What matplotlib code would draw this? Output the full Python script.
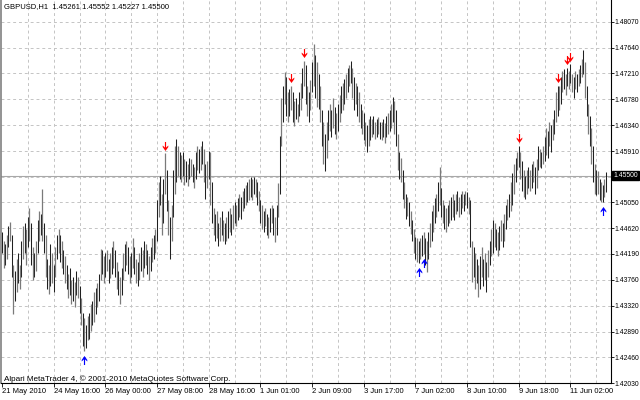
import numpy as np
import matplotlib
matplotlib.use("Agg")
import matplotlib.pyplot as plt
from matplotlib.path import Path

# GBPUSD H1 bars, prices as pips above 1.4000
BASE = 1.4

low_pips = [
    420, 395, 400, 410, 430, 440, 380, 319, 340, 355,
    370, 360, 380, 410, 420, 400, 430, 440, 400, 375,
    380, 390, 420, 440, 450, 440, 420, 380, 360, 352,
    365, 370, 355, 380, 410, 420, 405, 395, 385, 370,
    360, 345, 350, 335, 340, 330, 350, 345,
    320, 300, 265, 257, 262, 275, 276, 290, 300, 305, 318, 330, 340,
    375, 385, 370, 380, 390, 370,
    378, 385, 395, 380, 360, 350, 336, 350, 375, 390,
    400, 385, 370, 380, 395, 385, 370, 365, 375, 390,
    380, 395, 400, 385, 375, 390, 405, 411, 420, 440, 480,
    500, 450, 470, 520, 490, 450, 411, 440, 480, 520,
    540, 550, 545, 540, 550, 535, 540, 533, 545, 550,
    540, 530, 545, 560, 555, 560, 570, 540, 511, 530,
    545, 500, 470,
    450, 440, 445, 433, 440, 450, 440, 435, 440,
    445, 455, 450, 460, 470, 465, 475, 480, 478, 490,
    495, 500, 505, 510, 515, 510, 520, 515,
    500, 490, 470, 460, 455, 465, 450, 445, 455, 470, 450, 439, 450,
    480, 520, 600,
    640, 670, 650, 640, 650, 660, 640, 633, 645, 640,
    650, 660, 680, 700, 670, 650, 640, 660, 690, 700,
    680, 665, 662, 640, 600, 570, 557, 580,
    610, 625, 615, 630, 620, 612, 625, 640, 655, 660, 670, 680, 690, 700, 705,
    680, 660, 670, 650, 640, 630, 620, 610, 600, 590, 600, 610,
    615, 620, 612, 615, 620, 612, 610, 615, 605, 615, 620, 625,
    630, 640, 620, 600, 560, 545, 540, 511, 495, 478,
    483, 465, 453, 440, 420, 410, 405, 403, 410, 415,
    419, 400, 389, 410, 430, 440, 455, 470, 480, 490,
    500, 480, 470, 460, 456, 465, 470, 475, 480, 476,
    485, 490, 480, 485, 495, 490, 500, 495, 485,
    430, 372, 380, 360, 370, 347, 360, 380, 365, 375,
    355, 380, 400, 415, 420, 430, 425, 416, 425, 440, 430,
    440, 460, 476, 480, 490, 500, 520, 540, 560, 565,
    545, 525, 515, 511, 520, 530, 525, 530, 540, 520,
    530, 560, 565, 562, 570, 575, 585, 580, 600, 590,
    610, 620, 640, 650, 660, 670, 690, 695, 685, 700,
    695, 705, 690, 680, 695, 690, 700, 705, 715, 720,
    680, 650, 620, 600, 570, 540, 520, 517, 520, 510,
    506, 506, 515, 522.7,
]

high_pips = [
    455, 440, 436, 450, 465, 473, 450, 400, 390, 410,
    420, 400, 440, 465, 470, 460, 480, 495, 470, 430,
    420, 440, 475, 490, 485, 528, 470, 450, 410, 400,
    436, 420, 400, 430, 450, 461, 450, 440, 425, 415,
    400, 385, 395, 375, 380, 372, 390, 380,
    365, 345, 320, 312, 300, 315, 320, 335, 340, 355, 362, 370, 385,
    428, 425, 415, 420, 425, 410,
    420, 430, 440, 425, 405, 390, 380, 395, 420, 435,
    440, 430, 415, 420, 445, 430, 410, 405, 420, 430,
    425, 440, 435, 425, 415, 430, 445, 450, 461, 510, 540,
    550, 520, 545, 587, 560, 510, 480, 500, 560, 600,
    612, 600, 590, 585, 590, 578, 575, 570, 580, 578,
    570, 565, 590, 600, 595, 600, 608, 595, 570, 575,
    591, 590, 540,
    495, 485, 490, 470, 480, 490, 475, 470, 480,
    490, 495, 485, 500, 505, 500, 512, 520, 515, 525,
    530, 535, 540, 545, 548, 545, 548, 545,
    540, 525, 510, 500, 490, 495, 485, 480, 495, 500, 495, 480, 500,
    538, 617, 680,
    700, 724, 715, 690, 695, 700, 690, 675, 680, 670,
    690, 705, 730, 742, 735, 700, 690, 710, 740, 771,
    751, 740, 720, 700, 660, 640, 620, 640,
    660, 670, 660, 679, 665, 655, 670, 685, 700, 705, 712, 720, 730, 735, 742,
    730, 715, 705, 700, 690, 670, 660, 655, 640, 635, 645, 650,
    645, 650, 640, 645, 648, 640, 640, 645, 638, 650, 655, 660,
    670, 682, 675, 660, 620, 590, 580, 560, 540, 520,
    515, 505, 490, 475, 460, 448, 445, 440, 445, 450,
    455, 445, 440, 455, 470, 490, 500, 512, 520, 540,
    565, 530, 510, 500, 495, 500, 510, 515, 520, 510,
    520, 525, 515, 520, 525, 520, 525, 522, 515,
    510, 440, 430, 420, 410, 400, 415, 430, 410, 420,
    405, 425, 440, 460, 475, 470, 460, 455, 465, 475, 470,
    485, 500, 511, 520, 540, 555, 570, 580, 590, 600,
    590, 575, 560, 550, 560, 565, 560, 570, 575, 565,
    578, 600, 595, 590, 600, 615, 630, 625, 640, 635,
    645, 660, 690, 700, 700, 715, 725, 728, 720, 730,
    725, 736, 720, 715, 725, 720, 728, 735, 745, 760,
    740, 700, 670, 650, 630, 600, 570, 560, 557, 545,
    540, 535, 545, 555.2,
]

sell_bars = [101, 179, 187, 320, 344, 350, 352]
buy_bars = [51, 258, 261, 372]

date_labels = ["21 May 2010", "24 May 16:00", "26 May 00:00", "27 May 08:00",
               "28 May 16:00", "1 Jun 01:00", "2 Jun 09:00", "3 Jun 17:00",
               "7 Jun 02:00", "8 Jun 10:00", "9 Jun 18:00", "11 Jun 02:00"]
price_ticks = [1.42030, 1.42460, 1.42890, 1.43320, 1.43760, 1.44190, 1.44620,
               1.45050, 1.45480, 1.45910, 1.46340, 1.46780, 1.47210, 1.47640,
               1.48070]
symbol = "GBPUSD,H1"
last_ohlc = [1.45261, 1.45552, 1.45227, 1.45500]
copyright = "Alpari MetaTrader 4, \u00a9 2001-2010 MetaQuotes Software Corp."

plt.rcParams['font.family'] = ['Liberation Sans', 'DejaVu Sans']
FS = 5.5
FS_PRICE = 4.9

low = BASE + np.array(low_pips) / 1e4
high = BASE + np.array(high_pips) / 1e4
n = len(low)
bars = np.arange(n)
last = last_ohlc[3]

fig = plt.figure(figsize=(6.4, 4.0), dpi=100)
ax = fig.add_axes([1 / 640, 17 / 400, 610 / 640, 383 / 400])
ax.set_xlim(-0.62, 377.1)
ax.set_ylim(1.4203, 1.48438)

# grid
grid_kw = dict(color='#c4c4c4', lw=0.7, ls=(0, (3, 3)), zorder=0)
for b in range(16, n, 16):
    ax.axvline(b, **grid_kw)
for p in price_ticks:
    ax.axhline(p, **grid_kw)
ax.axhline(last, color='#a8a8a8', lw=0.8, zorder=1)

# bars (the downscaled screenshot shows them alternating dark / grey)
even = bars % 2 == 0
ax.vlines(bars[even], low[even], high[even], color='#202020', lw=0.75, zorder=2)
ax.vlines(bars[~even], low[~even], high[~even], color='#7a7a7a', lw=0.9, zorder=2)

# signal arrows: thin shaft, chevron head
down = Path([(-0.13, 1), (0.13, 1), (0.13, -0.25), (0.62, 0.22), (0.62, -0.12),
             (0, -1), (-0.62, -0.12), (-0.62, 0.22), (-0.13, -0.25), (-0.13, 1)],
            closed=True)
up = Path(down.vertices * [1, -1], closed=True)
ax.plot(sell_bars, high[sell_bars] + 0.0013, ls='none', marker=down,
        ms=6.5, color='#ff0000', mec='none', zorder=3)
ax.plot(buy_bars, low[buy_bars] - 0.0015, ls='none', marker=up,
        ms=6.5, color='#0000ff', mec='none', zorder=3)

# axes styling
ax.spines['top'].set_visible(False)
ax.spines['left'].set_color('#808080')
ax.spines['left'].set_linewidth(1.2)
ax.spines['right'].set_color('black')
ax.spines['bottom'].set_color('black')
ax.spines['right'].set_linewidth(0.8)
ax.spines['bottom'].set_linewidth(0.8)

ax.yaxis.tick_right()
ax.set_yticks(price_ticks)
ax.set_yticklabels(['' if abs(p - 1.4548) < 1e-6 else '%.5f' % p
                    for p in price_ticks])
ax.tick_params(axis='y', length=2, width=0.6, pad=0.8, labelsize=FS_PRICE)
ax.set_xticks(np.arange(0, n, 32))
ax.set_xticklabels(date_labels, ha='left')
ax.tick_params(axis='x', length=3, width=0.6, pad=0.8, labelsize=FS)

ax.annotate('%.5f' % last, xy=(1, last), xycoords=('axes fraction', 'data'),
            xytext=(1.6, 0), textcoords='offset points', va='center',
            ha='left', fontsize=FS_PRICE, color='white',
            bbox=dict(boxstyle='square,pad=0.15', fc='black', ec='black'))

fig.text(4 / 640, 1 - 7 / 400, symbol + '  ' + ' '.join('%.5f' % v for v in last_ohlc),
         fontsize=FS, va='center', ha='left')
fig.text(4 / 640, 1 - 379 / 400, copyright, fontsize=5.9, va='center', ha='left')

fig.savefig('out.png', dpi=100, facecolor='white')
